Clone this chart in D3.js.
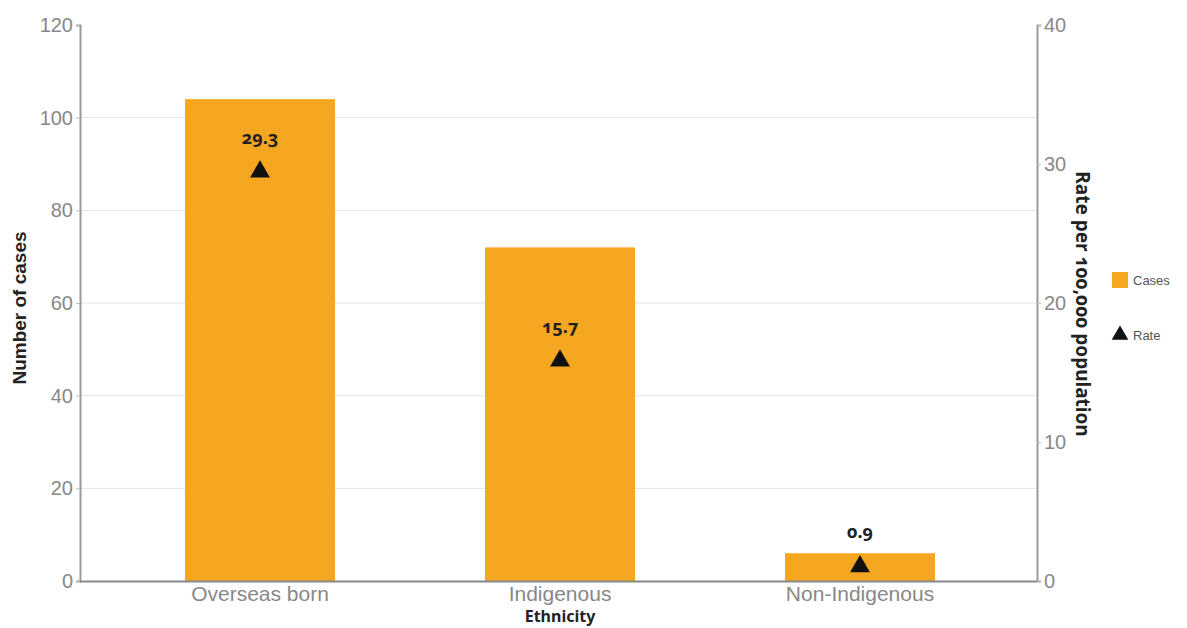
<!DOCTYPE html>
<html><head><meta charset="utf-8">
<script src="https://cdn.jsdelivr.net/npm/d3@7"></script>
<style>body{margin:0;background:#fff}svg{display:block}</style>
</head><body>
<svg id="c" width="1187" height="628"></svg>
<script>
const categories = ["Overseas born", "Indigenous", "Non-Indigenous"];
const cases = [104, 72, 6];
const rates = [29.3, 15.7, 0.9];
const rateLabels = ["29.3", "15.7", "0.9"];
const leftTicks = [0, 20, 40, 60, 80, 100, 120];
const rightTicks = [0, 10, 20, 30, 40];

const svg = d3.select("#c");
const L = 80, R = 1037, T = 25, B = 581;
const x = d3.scaleBand().domain(categories).range([110, 1010]).paddingInner(0.5).paddingOuter(0.25);
const yL = d3.scaleLinear().domain([0, 120]).range([B, T]);
const yR = d3.scaleLinear().domain([0, 40]).range([B, T]);
const tickFont = "'Liberation Sans', Arial, sans-serif";
const labFont = "'Noto Sans', 'DejaVu Sans', sans-serif";

// gridlines
svg.append("g").selectAll("line").data(leftTicks.filter(d => d > 0 && d < 120)).join("line")
  .attr("x1", L).attr("x2", R).attr("y1", d => yL(d)).attr("y2", d => yL(d))
  .attr("stroke", "#e3e3e3").attr("stroke-width", 1);

// bars
svg.append("g").selectAll("rect").data(categories).join("rect")
  .attr("x", d => x(d)).attr("width", x.bandwidth())
  .attr("y", (d, i) => yL(cases[i])).attr("height", (d, i) => B - yL(cases[i]))
  .attr("fill", "#F5A722");

// axes
const gL = svg.append("g").attr("transform", `translate(${L},0)`)
  .call(d3.axisLeft(yL).tickValues(leftTicks).tickSize(4).tickPadding(3));
const gR = svg.append("g").attr("transform", `translate(${R},0)`)
  .call(d3.axisRight(yR).tickValues(rightTicks).tickSize(4).tickPadding(3));
const gX = svg.append("g").attr("transform", `translate(0,${B})`)
  .call(d3.axisBottom(x).tickSize(0).tickPadding(5));
gX.select(".domain").attr("d", `M${L},0.5H${R}`);
[gL, gR, gX].forEach(g => {
  g.select(".domain").attr("stroke", "#999").attr("stroke-width", 2);
  g.selectAll(".tick line").attr("stroke", "#bbb");
  g.selectAll(".tick text").attr("fill", "#888").style("font-family", tickFont).style("font-size", "20px");
});
gX.selectAll(".tick text").style("font-size", "21px");
gX.select(".domain").attr("stroke", "#888");

// triangles
const tri = d3.symbol().type(d3.symbolTriangle).size(170);
svg.append("g").selectAll("path").data(categories).join("path")
  .attr("d", tri)
  .attr("transform", (d, i) => `translate(${x(d) + x.bandwidth() / 2},${yR(rates[i]) - 2})`)
  .attr("fill", "#111");

// rate labels
svg.append("g").selectAll("text").data(categories).join("text")
  .attr("x", d => x(d) + x.bandwidth() / 2)
  .attr("y", (d, i) => yR(rates[i]) - 30)
  .attr("text-anchor", "middle")
  .style("font-family", labFont).style("font-weight", "bold").style("font-size", "18px")
  .style("font-variant-numeric", "oldstyle-nums")
  .attr("fill", "#222")
  .text((d, i) => rateLabels[i]);

// axis titles
svg.append("text").attr("transform", `translate(26,${(T + B) / 2 + 5}) rotate(-90)`)
  .attr("text-anchor", "middle").style("font-family", tickFont).style("font-weight", "bold")
  .style("font-size", "19px").attr("fill", "#222").text("Number of cases");
svg.append("text").attr("transform", `translate(1076,${(T + B) / 2 + 1}) rotate(90)`)
  .attr("text-anchor", "middle").style("font-family", labFont).style("font-weight", "bold")
  .style("font-size", "19px").style("font-variant-numeric", "oldstyle-nums")
  .attr("fill", "#222").text("Rate per 100,000 population");
svg.append("text").attr("x", 560).attr("y", 622).attr("text-anchor", "middle")
  .style("font-family", labFont).style("font-weight", "bold").style("font-size", "16px")
  .attr("fill", "#222").text("Ethnicity");

// legend
const lg = svg.append("g");
lg.append("rect").attr("x", 1112).attr("y", 272).attr("width", 16).attr("height", 16).attr("fill", "#F5A722");
lg.append("text").attr("x", 1133).attr("y", 285).style("font-family", tickFont).style("font-size", "13px")
  .attr("fill", "#555").text("Cases");
lg.append("path").attr("d", d3.symbol().type(d3.symbolTriangle).size(120)).attr("transform", "translate(1120,335)").attr("fill", "#111");
lg.append("text").attr("x", 1133).attr("y", 340).style("font-family", tickFont).style("font-size", "13px")
  .attr("fill", "#555").text("Rate");
</script>
</body></html>
